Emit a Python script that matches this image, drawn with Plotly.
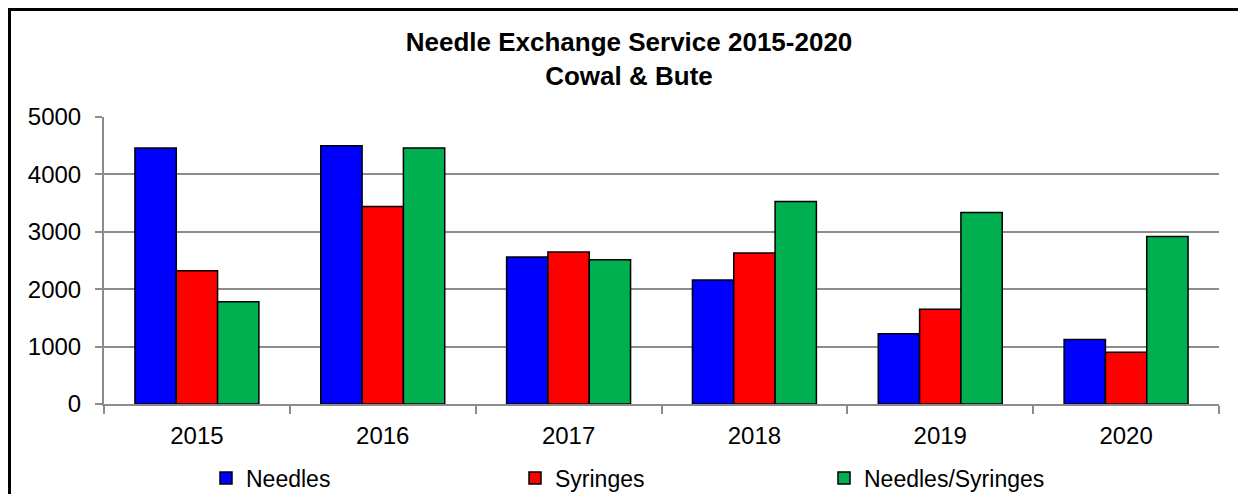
import plotly.graph_objects as go

years = ["2015", "2016", "2017", "2018", "2019", "2020"]
needles = [4460, 4500, 2560, 2160, 1225, 1125]
syringes = [2320, 3440, 2650, 2630, 1650, 900]
needles_syringes = [1780, 4460, 2515, 3530, 3335, 2920]

series_names = ["Needles", "Syringes", "Needles/Syringes"]
series_colors = ["#0000FF", "#FF0000", "#00B050"]
y_ticks = [0, 1000, 2000, 3000, 4000, 5000]

FONT = "Arial, 'Liberation Sans', sans-serif"

fig = go.Figure()
for name, vals, col in zip(series_names, [needles, syringes, needles_syringes], series_colors):
    fig.add_trace(go.Bar(
        x=years, y=vals, name=name,
        marker=dict(color=col, line=dict(color="black", width=1.5)),
    ))

# figure sized so the page (with 8px body margin) fits the 1246x502 window exactly
W, H = 1230, 486
ml, mt = 96, 109
pw, ph = 1115, 287
mr = W - ml - pw
mb = H - mt - ph

def px_to_paper_x(px):
    return (px - ml) / pw

def px_to_paper_y(py):
    return (H - mb - py) / ph

frame_line = dict(color="black", width=3)

fig.update_layout(
    width=W, height=H,
    margin=dict(l=ml, r=mr, t=mt, b=mb, pad=0, autoexpand=False),
    paper_bgcolor="white", plot_bgcolor="white",
    barmode="group", bargap=0.333, bargroupgap=0,
    font=dict(family=FONT, size=23, color="black"),
    title=dict(
        text="<b>Needle Exchange Service 2015-2020</b><br><b>Cowal & Bute</b>",
        x=621 / W, xanchor="center",
        y=1 - 43 / H, yanchor="top",
        font=dict(family=FONT, size=26, color="black"),
    ),
    showlegend=True,
    legend=dict(
        orientation="h",
        xref="container", yref="container",
        x=198 / W, xanchor="left",
        y=1 - 470 / H, yanchor="middle",
        entrywidth=264, entrywidthmode="pixels",
        font=dict(family=FONT, size=23, color="black"),
        bgcolor="rgba(0,0,0,0)",
        traceorder="normal",
    ),
    xaxis=dict(
        type="category",
        showline=True, linecolor="#8c8c8c", linewidth=2,
        ticks="outside", tickson="boundaries", ticklen=8, tickwidth=2, tickcolor="#8c8c8c",
        showgrid=False,
        tickfont=dict(family=FONT, size=24, color="black"),
        ticklabelstandoff=9,
    ),
    yaxis=dict(
        range=[0, 5000], tickvals=y_ticks,
        showline=True, linecolor="#8c8c8c", linewidth=2,
        ticks="outside", ticklen=7, tickwidth=2, tickcolor="#8c8c8c",
        showgrid=True, gridcolor="#8c8c8c", gridwidth=2,
        zeroline=False,
        tickfont=dict(family=FONT, size=24, color="black"),
        ticklabelstandoff=9,
    ),
    shapes=[
        dict(type="line", xref="paper", yref="paper",
             x0=px_to_paper_x(1.5), x1=px_to_paper_x(1.5),
             y0=px_to_paper_y(H + 20), y1=px_to_paper_y(0),
             line=frame_line, layer="above"),
        dict(type="line", xref="paper", yref="paper",
             x0=px_to_paper_x(0), x1=px_to_paper_x(W + 20),
             y0=px_to_paper_y(1.5), y1=px_to_paper_y(1.5),
             line=frame_line, layer="above"),
    ],
)

fig.write_html("out.html")
